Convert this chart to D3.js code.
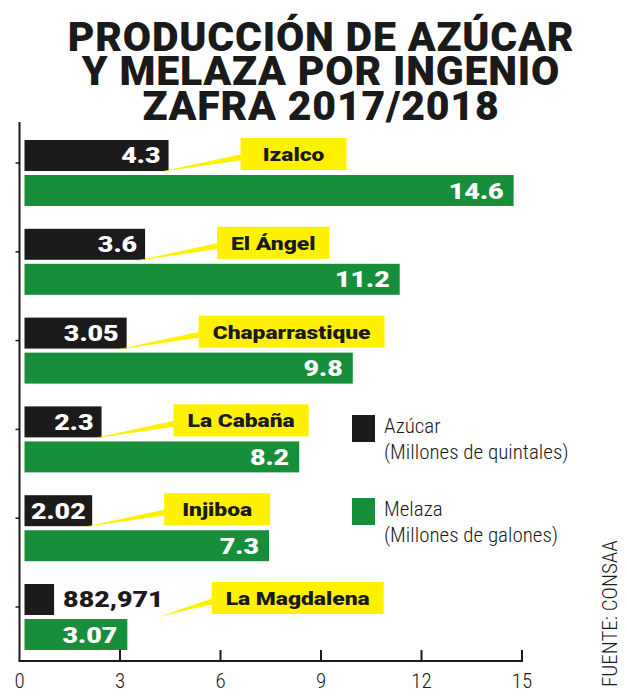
<!DOCTYPE html>
<html>
<head>
<meta charset="utf-8">
<script src="https://cdn.jsdelivr.net/npm/d3@7"></script>
<style>
  html, body { margin: 0; padding: 0; background: #fff; overflow: hidden; }
  #wrap { position: relative; width: 627px; height: 698px; }
  svg { display: block; position: absolute; left: 0; top: 0; }
  #title { position: absolute; left: 0; top: 19.75px; width: 627px; box-sizing: border-box;
           padding-left: 15px; text-align: center; font-family: Roboto, "Open Sans", sans-serif;
           font-weight: 900; font-size: 41px; line-height: 34.5px; letter-spacing: 0.8px;
           color: #1a1a1a; white-space: nowrap; }
  .heavy { font-family: Roboto, "Open Sans", sans-serif; font-weight: 900; }
  .light { font-family: "Liberation Sans Narrow", "Roboto Condensed", Roboto, sans-serif; font-weight: 300; }
</style>
</head>
<body>
<div id="wrap">
<svg id="chart" width="627" height="698"></svg>
<div id="title"></div>
</div>
<script>
// ---- data ----
const titleLines = ["PRODUCCIÓN DE AZÚCAR", "Y MELAZA POR INGENIO", "ZAFRA 2017/2018"];
const ingenios = ["Izalco", "El Ángel", "Chaparrastique", "La Cabaña", "Injiboa", "La Magdalena"];
const azucar = [4.3, 3.6, 3.05, 2.3, 2.02, 0.882971];
const azucarLabels = ["4.3", "3.6", "3.05", "2.3", "2.02", "882,971"];
const melaza = [14.6, 11.2, 9.8, 8.2, 7.3, 3.07];
const melazaLabels = ["14.6", "11.2", "9.8", "8.2", "7.3", "3.07"];
const xTicks = [0, 3, 6, 9, 12, 15];
const legendItems = [
  { key: "azucar", name: "Azúcar", unit: "(Millones de quintales)" },
  { key: "melaza", name: "Melaza", unit: "(Millones de galones)" }
];
const source = "FUENTE: CONSAA";

// ---- styles ----
const colors = { azucar: "#1c1a1b", melaza: "#178f3a", label: "#fff100", axis: "#1c1a1b" };

const svg = d3.select("#chart");

// widen heavy glyphs horizontally (reference typeface is a wide black face)
function stretch(sel, factor) {
  const w = sel.node().getComputedTextLength();
  sel.attr("textLength", w * factor).attr("lengthAdjust", "spacingAndGlyphs");
  return w * factor;
}

// title: one block of text, lines separated by line breaks
const titleDiv = d3.select("#title");
titleLines.forEach((line, i) => {
  if (i > 0) titleDiv.append("br");
  titleDiv.node().appendChild(document.createTextNode(line));
});

// scales
const x = d3.scaleLinear().domain([0, 15]).range([19.5, 522]);
const barOffset = 5;
const y = d3.scaleBand().domain(ingenios).range([136, 136 + 6 * 88.8]);
const ySub = d3.scaleBand().domain(["azucar", "melaza"]).range([4, 70]).paddingInner(0.115);

const rows = ingenios.map((name, i) => ({
  name, i,
  bars: [
    { key: "azucar", v: azucar[i], label: azucarLabels[i] },
    { key: "melaza", v: melaza[i], label: melazaLabels[i] }
  ]
}));

// axes
const axisG = svg.append("g");
const yBottom = 661;
axisG.append("line")
  .attr("x1", x(0)).attr("x2", x(0))
  .attr("y1", 122).attr("y2", yBottom)
  .attr("stroke", colors.axis).attr("stroke-width", 2);
axisG.append("line")
  .attr("x1", x(0) - 1).attr("x2", x(15) + 1)
  .attr("y1", yBottom).attr("y2", yBottom)
  .attr("stroke", colors.axis).attr("stroke-width", 2);
axisG.selectAll(".ytick").data(ingenios).join("line")
  .attr("x1", x(0) - 4).attr("x2", x(0))
  .attr("y1", d => y(d) + 27).attr("y2", d => y(d) + 27)
  .attr("stroke", colors.axis).attr("stroke-width", 1.5);
axisG.selectAll(".xtick").data(xTicks.filter(t => t > 0)).join("line")
  .attr("x1", d => x(d)).attr("x2", d => x(d))
  .attr("y1", yBottom - 11).attr("y2", yBottom)
  .attr("stroke", colors.axis).attr("stroke-width", 2);
axisG.selectAll(".xlabel").data(xTicks).join("text")
  .attr("class", "light")
  .attr("x", d => x(d))
  .attr("y", 688)
  .attr("text-anchor", "middle")
  .attr("font-size", 21)
  .attr("fill", "#1a1a1a")
  .text(d => d);

// bars
const rowG = svg.append("g").selectAll("g").data(rows).join("g")
  .attr("transform", d => `translate(0,${y(d.name)})`);

rowG.each(function(row) {
  const g = d3.select(this);
  let blackEnd = 0, blackBottom = 0, outside = false;
  row.bars.forEach(b => {
    const bx = x(0) + barOffset;
    const bw = x(b.v) - x(0);
    const by = ySub(b.key);
    const bh = ySub.bandwidth();
    g.append("rect")
      .attr("x", bx).attr("y", by).attr("width", bw).attr("height", bh)
      .attr("fill", colors[b.key]);
    const t = g.append("text")
      .attr("class", "heavy")
      .attr("font-size", 22)
      .attr("y", by + bh / 2 + 8)
      .text(b.label);
    const tw = stretch(t, 1.22);
    if (tw + 8 < bw) {
      const pad = Math.min(b.key === "azucar" ? 8 : 10, (bw - tw) / 2);
      t.attr("x", bx + bw - pad).attr("text-anchor", "end").attr("fill", "#fff");
      if (b.key === "azucar") { blackEnd = bx + bw; outside = false; }
    } else {
      t.attr("x", bx + bw + 9).attr("text-anchor", "start").attr("fill", colors.azucar);
      if (b.key === "azucar") { blackEnd = bx + bw + 9 + tw; outside = true; }
    }
    if (b.key === "azucar") blackBottom = by + bh;
  });

  // name label box
  const boxTop = ySub("azucar") - 2;
  const boxH = 32;
  const boxLeft = blackEnd + (outside ? 48 : 72);
  const nameText = g.append("text")
    .attr("class", "heavy")
    .attr("font-size", 19)
    .attr("y", boxTop + boxH / 2 + 7)
    .attr("text-anchor", "middle")
    .attr("fill", "#1a1a1a")
    .text(row.name);
  const nw = stretch(nameText, 1.2);
  const boxW = Math.max(nw + 28, 106);
  nameText.attr("x", boxLeft + boxW / 2);

  // leader wedge
  const sx = outside ? blackEnd - 4 : blackEnd - 12;
  const sy = blackBottom + 1.5;
  g.insert("path", "text")
    .attr("d", `M${sx},${sy} L${boxLeft + 2},${boxTop + 16} L${boxLeft + 2},${boxTop + 22} Z`)
    .attr("fill", colors.label);
  g.insert("rect", "text")
    .attr("x", boxLeft).attr("y", boxTop).attr("width", boxW).attr("height", boxH)
    .attr("fill", colors.label);
});

// legend
const lg = svg.append("g").selectAll("g").data(legendItems).join("g")
  .attr("transform", (d, i) => `translate(352,${415 + i * 83})`);
lg.append("rect").attr("width", 23).attr("height", 27).attr("fill", d => colors[d.key]);
lg.append("text").attr("class", "light").attr("x", 32).attr("y", 18)
  .attr("font-size", 21).attr("fill", "#1a1a1a").text(d => d.name);
lg.append("text").attr("class", "light").attr("x", 32).attr("y", 44)
  .attr("font-size", 21).attr("fill", "#1a1a1a").text(d => d.unit);

// source
svg.append("text")
  .attr("class", "light")
  .attr("transform", "translate(617,687) rotate(-90)")
  .attr("font-size", 21)
  .attr("fill", "#1a1a1a")
  .text(source);
</script>
</body>
</html>
